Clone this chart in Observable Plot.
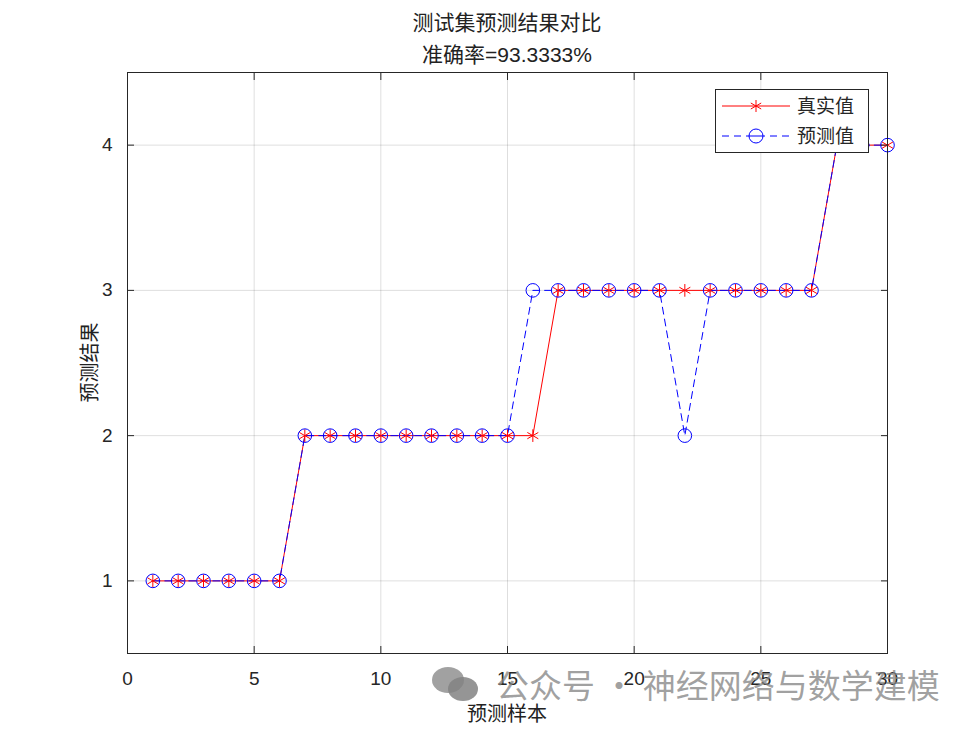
<!DOCTYPE html>
<html><head><meta charset="utf-8">
<script src="https://cdn.jsdelivr.net/npm/d3@7"></script>
<script src="https://cdn.jsdelivr.net/npm/@observablehq/plot@0.6"></script>
<style>
body{margin:0;background:#fff;}
#wrap{position:relative;width:980px;height:735px;font-family:"Liberation Sans","Noto Sans CJK SC",sans-serif;}
.title{position:absolute;left:127px;width:760px;text-align:center;font-size:21px;color:#222;}
.lbl{position:absolute;font-family:"Noto Sans CJK SC",sans-serif;font-size:20px;color:#222;white-space:nowrap;}
#legend{position:absolute;left:715px;top:89px;}
#wm{position:absolute;left:430px;top:660px;color:rgba(130,130,130,0.75);font-family:"Noto Sans CJK SC",sans-serif;font-size:33px;white-space:nowrap;display:flex;align-items:center;}
</style></head>
<body><div id="wrap"></div>
<script>
const sampleIdx = d3.range(1, 31);
const trueVals = [1,1,1,1,1,1,2,2,2,2,2,2,2,2,2,2,3,3,3,3,3,3,3,3,3,3,3,4,4,4];
const predVals = [1,1,1,1,1,1,2,2,2,2,2,2,2,2,2,3,3,3,3,3,3,2,3,3,3,3,3,4,4,4];
const xTicks = [0,5,10,15,20,25,30];
const yTicks = [1,2,3,4];
const seriesNames = ["真实值","预测值"];
const titleText = ["测试集预测结果对比","准确率=93.3333%"];
const xLabel = "预测样本", yLabel = "预测结果";

const trueData = sampleIdx.map((x,i)=>({x, y: trueVals[i]}));
const predData = sampleIdx.map((x,i)=>({x, y: predVals[i]}));

const chart = Plot.plot({
  width: 980, height: 735,
  marginLeft: 127, marginRight: 93, marginTop: 72, marginBottom: 82,
  style: {fontFamily: '"Liberation Sans","Noto Sans CJK SC",sans-serif', fontSize: "19px", color: "#262626", background: "#fff"},
  x: {domain: [0, 30], ticks: xTicks},
  y: {domain: [0.5, 4.5], ticks: yTicks},
  marks: [
    Plot.gridX(xTicks, {stroke: "#000", strokeOpacity: 0.13}),
    Plot.gridY(yTicks, {stroke: "#000", strokeOpacity: 0.13}),
    Plot.line(trueData, {x: "x", y: "y", stroke: "#ff0000", strokeWidth: 1}),
    Plot.line(predData, {x: "x", y: "y", stroke: "#0000ff", strokeWidth: 1, strokeDasharray: "7,5"}),
    Plot.dot(trueData, {x: "x", y: "y", symbol: "asterisk", r: 6, stroke: "#ff0000", strokeWidth: 1}),
    Plot.dot(predData, {x: "x", y: "y", symbol: "circle", r: 6.8, stroke: "#0000ff", fill: "none", strokeWidth: 1}),
    Plot.axisX(xTicks, {anchor: "bottom", tickSize: -7, tickPadding: 25, tickFormat: d => String(d), label: null, stroke: "#262626", fill: "#262626"}),
    Plot.axisX(xTicks, {anchor: "top", tickSize: -7, tickFormat: () => "", label: null, stroke: "#262626"}),
    Plot.axisY(yTicks, {anchor: "left", tickSize: -7, tickPadding: 22, tickFormat: d => String(d), label: null, stroke: "#262626", fill: "#262626"}),
    Plot.axisY(yTicks, {anchor: "right", tickSize: -7, tickFormat: () => "", label: null, stroke: "#262626"}),
    Plot.frame({stroke: "#262626", strokeWidth: 1})
  ]
});
const wrap = document.getElementById("wrap");
wrap.appendChild(chart);

function addDiv(cls, html, style){
  const d = document.createElement("div");
  d.className = cls; d.innerHTML = html; d.setAttribute("style", style);
  wrap.appendChild(d); return d;
}
addDiv("title", titleText[0], "top:6px");
addDiv("title", titleText[1], "top:38px");
addDiv("lbl", xLabel, "left:457px;top:698px;width:100px;text-align:center");
addDiv("lbl", yLabel, "left:38px;top:348px;width:100px;text-align:center;transform:rotate(-90deg)");

// legend
const lg = document.createElement("div");
lg.id = "legend";
lg.innerHTML = `<svg width="155" height="65" style="font-family:'Noto Sans CJK SC',sans-serif">
<rect x="0.5" y="0.5" width="153" height="63" fill="#fff" stroke="#262626"/>
<line x1="7" x2="75" y1="17" y2="17" stroke="#ff0000"/>
<g stroke="#ff0000" transform="translate(41,17)"><line x1="0" y1="-6" x2="0" y2="6"/><line x1="-5.2" y1="-3" x2="5.2" y2="3"/><line x1="-5.2" y1="3" x2="5.2" y2="-3"/></g>
<text x="82" y="24" font-size="19" fill="#262626">${seriesNames[0]}</text>
<line x1="7" x2="75" y1="47" y2="47" stroke="#0000ff" stroke-dasharray="7,5"/>
<circle cx="41" cy="47" r="7" fill="#fff" stroke="#0000ff"/>
<line x1="34" x2="48" y1="47" y2="47" stroke="#0000ff"/>
<text x="82" y="54" font-size="19" fill="#262626">${seriesNames[1]}</text>
</svg>`;
wrap.appendChild(lg);

// watermark
const wm = document.createElement("div");
wm.id = "wm";
wm.innerHTML = `<svg width="52" height="40" style="margin-right:14px"><ellipse cx="18" cy="16" rx="16" ry="13" fill="rgba(130,130,130,0.75)"/><ellipse cx="33" cy="25" rx="15" ry="12" fill="rgba(130,130,130,0.85)"/></svg><span>公众号 · 神经网络与数学建模</span>`;
wrap.appendChild(wm);
</script>
</body></html>
